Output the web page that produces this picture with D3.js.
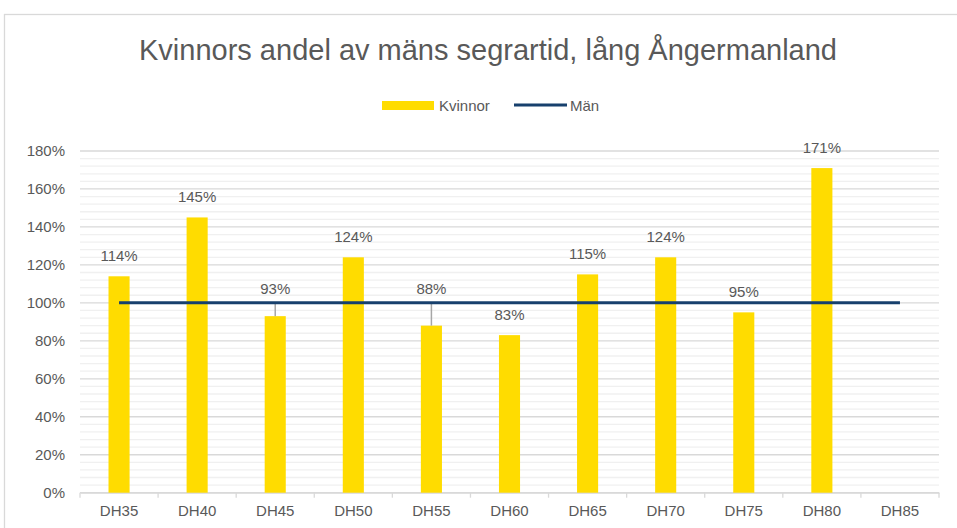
<!DOCTYPE html>
<html>
<head>
<meta charset="utf-8">
<script src="https://cdn.jsdelivr.net/npm/d3@7"></script>
<style>
  body { margin: 0; background: #fff; }
  text { font-family: "Liberation Sans", Arial, sans-serif; fill: #595959; }
</style>
</head>
<body>
<script>
// Chart data
var categories = ["DH35", "DH40", "DH45", "DH50", "DH55", "DH60", "DH65", "DH70", "DH75", "DH80", "DH85"];
var kvinnor = [1.14, 1.45, 0.93, 1.24, 0.88, 0.83, 1.15, 1.24, 0.95, 1.71, null];
var man = [1, 1, 1, 1, 1, 1, 1, 1, 1, 1, 1];
var yTicks = [0, 0.2, 0.4, 0.6, 0.8, 1.0, 1.2, 1.4, 1.6, 1.8];
// labels that were dragged up above the Män line
var movedLabels = ["DH45", "DH55"];

var svgWidth = 957;
var svgHeight = 528;

var margin = { top: 151, right: 18, bottom: 35, left: 80 };
var chartWidth = 939 - margin.left;
var chartHeight = 492.7 - margin.top;

var svg = d3.select("body")
  .append("svg")
  .attr("width", svgWidth)
  .attr("height", svgHeight);

// chart border
svg.append("rect")
  .attr("x", 4.5)
  .attr("y", 14.5)
  .attr("width", 1000)
  .attr("height", 600)
  .attr("fill", "#fff")
  .attr("stroke", "#d9d9d9")
  .attr("stroke-width", 1.3);

// title
svg.append("text")
  .attr("x", 488)
  .attr("y", 60)
  .attr("text-anchor", "middle")
  .style("font-size", "29px")
  .text("Kvinnors andel av mäns segrartid, lång Ångermanland");

var chartGroup = svg.append("g")
  .attr("transform", `translate(${margin.left}, ${margin.top})`);

var x = d3.scaleBand()
  .domain(categories)
  .range([0, chartWidth])
  .paddingInner(0.73)
  .paddingOuter(0.365);

var y = d3.scaleLinear()
  .domain([0, 1.8])
  .range([chartHeight, 0]);

// minor gridlines
chartGroup.append("g")
  .selectAll("line")
  .data(d3.range(0, 1.8001, 0.04).filter(v => Math.abs(v * 5 - Math.round(v * 5)) > 0.01))
  .join("line")
  .attr("x1", 0)
  .attr("x2", chartWidth)
  .attr("y1", d => y(d))
  .attr("y2", d => y(d))
  .attr("stroke", "#f0f0f0")
  .attr("stroke-width", 1.3);

// major gridlines
chartGroup.append("g")
  .selectAll("line")
  .data(yTicks)
  .join("line")
  .attr("x1", 0)
  .attr("x2", chartWidth)
  .attr("y1", d => y(d))
  .attr("y2", d => y(d))
  .attr("stroke", "#d9d9d9")
  .attr("stroke-width", 1.3);

// y axis labels
var leftAxis = d3.axisLeft(y)
  .tickValues(yTicks)
  .tickFormat(d3.format(".0%"))
  .tickSize(0)
  .tickPadding(15);

var yAxisG = chartGroup.append("g").call(leftAxis);
yAxisG.select(".domain").remove();
yAxisG.selectAll("text")
  .style("font-size", "15px")
  .style("font-family", "'Liberation Sans', Arial, sans-serif")
  .attr("fill", "#595959");

// x axis
var bottomAxis = d3.axisBottom(x).tickSize(0).tickPadding(13);
var xAxisG = chartGroup.append("g")
  .attr("transform", `translate(0, ${chartHeight})`)
  .call(bottomAxis);
xAxisG.select(".domain")
  .attr("stroke", "#d9d9d9")
  .attr("stroke-width", 1.3);
xAxisG.selectAll("text")
  .style("font-size", "15px")
  .style("font-family", "'Liberation Sans', Arial, sans-serif")
  .attr("fill", "#595959");

// tick marks at category boundaries
xAxisG.append("g")
  .selectAll("line")
  .data(d3.range(categories.length + 1))
  .join("line")
  .attr("x1", i => i * x.step())
  .attr("x2", i => i * x.step())
  .attr("y1", 0)
  .attr("y2", 5)
  .attr("stroke", "#d9d9d9")
  .attr("stroke-width", 1.3);

var barData = categories.map((c, i) => ({ cat: c, value: kvinnor[i] })).filter(d => d.value != null);

// bars
chartGroup.append("g")
  .selectAll("rect")
  .data(barData)
  .join("rect")
  .attr("x", d => x(d.cat))
  .attr("y", d => y(d.value))
  .attr("width", x.bandwidth())
  .attr("height", d => chartHeight - y(d.value))
  .attr("fill", "#ffdc00");

// leader lines
chartGroup.append("g")
  .selectAll("line")
  .data(barData.filter(d => movedLabels.includes(d.cat)))
  .join("line")
  .attr("x1", d => x(d.cat) + x.bandwidth() / 2)
  .attr("x2", d => x(d.cat) + x.bandwidth() / 2)
  .attr("y1", y(1))
  .attr("y2", d => y(d.value))
  .attr("stroke", "#a6a6a6")
  .attr("stroke-width", 1.5);

// Män line
var drawLine = d3.line()
  .x((d, i) => x(categories[i]) + x.bandwidth() / 2)
  .y(d => y(d));

chartGroup.append("path")
  .attr("d", drawLine(man))
  .attr("fill", "none")
  .attr("stroke", "#17406d")
  .attr("stroke-width", 3);

// data labels
chartGroup.append("g")
  .selectAll("text")
  .data(barData)
  .join("text")
  .attr("x", d => x(d.cat) + x.bandwidth() / 2)
  .attr("y", d => movedLabels.includes(d.cat) ? y(1) - 9 : y(d.value) - 15)
  .attr("text-anchor", "middle")
  .style("font-size", "15px")
  .text(d => d3.format(".0%")(d.value));

// legend
var legend = svg.append("g");
legend.append("rect")
  .attr("x", 382)
  .attr("y", 101)
  .attr("width", 52)
  .attr("height", 9)
  .attr("fill", "#ffdc00");
legend.append("text")
  .attr("x", 439)
  .attr("y", 111)
  .style("font-size", "15px")
  .text("Kvinnor");
legend.append("line")
  .attr("x1", 514)
  .attr("x2", 567)
  .attr("y1", 105)
  .attr("y2", 105)
  .attr("stroke", "#17406d")
  .attr("stroke-width", 3);
legend.append("text")
  .attr("x", 570)
  .attr("y", 111)
  .style("font-size", "15px")
  .text("Män");
</script>
</body>
</html>
